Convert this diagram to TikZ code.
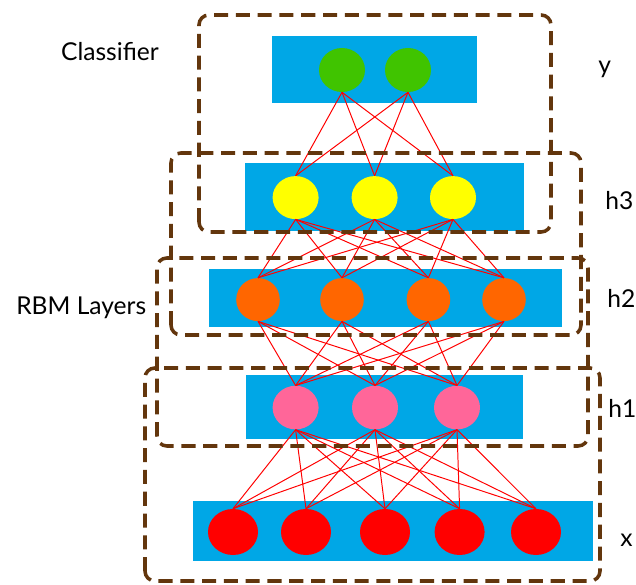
\documentclass[tikz,border=0pt]{standalone}
\usepackage{fontspec}
\setmainfont{Lato}
\usepackage{tikz}
\usetikzlibrary{shapes.geometric}

\definecolor{layerblue}{RGB}{0,167,230}
\definecolor{unitgreen}{RGB}{64,196,0}
\definecolor{unityellow}{RGB}{255,255,0}
\definecolor{unitorange}{RGB}{255,102,0}
\definecolor{unitpink}{RGB}{255,102,153}
\definecolor{unitred}{RGB}{255,0,0}
\definecolor{rbmbrown}{RGB}{99,54,13}

\begin{document}
\begin{tikzpicture}[
	unit/.style={ellipse,inner sep=0pt,draw=none},
	yunit/.style={unit,fill=unitgreen,minimum width=1.15cm,minimum height=1.1cm},
	hthreeunit/.style={unit,fill=unityellow,minimum width=1.15cm,minimum height=1.075cm},
	htwounit/.style={unit,fill=unitorange,minimum width=1.09cm,minimum height=1.075cm},
	honeunit/.style={unit,fill=unitpink,minimum width=1.15cm,minimum height=1.09cm},
	xunit/.style={unit,fill=unitred,minimum width=1.25cm,minimum height=1.15cm},
	link/.style={unitred,line width=0.7pt},
	rbmbox/.style={draw=rbmbrown,line width=2.5pt,dash pattern=on 10pt off 5.5pt,rounded corners=7pt},
	lbl/.style={anchor=base west,inner sep=0pt,font=\fontsize{17.5}{21}\selectfont}]
	\useasboundingbox (0,0) rectangle (15.9,14.6);
	% layer bars
	\fill[layerblue] (6.8,12.025) rectangle (11.925,13.7);
	\fill[layerblue] (6.125,8.825) rectangle (13.11,10.525);
	\fill[layerblue] (5.225,6.425) rectangle (14.05,7.875);
	\fill[layerblue] (6.15,3.625) rectangle (13.075,5.225);
	\fill[layerblue] (4.82,0.585) rectangle (14.825,2.085);
	% units
	\foreach \x [count=\i] in {8.55,10.2}
		\node[yunit] (y\i) at (\x,12.85) {};
	\foreach \x [count=\i] in {7.39,9.365,11.325}
		\node[hthreeunit] (h3-\i) at (\x,9.66) {};
	\foreach \x [count=\i] in {6.45,8.55,10.71,12.6}
		\node[htwounit] (h2-\i) at (\x,7.11) {};
	\foreach \x [count=\i] in {7.39,9.375,11.425}
		\node[honeunit] (h1-\i) at (\x,4.41) {};
	\foreach \x [count=\i] in {5.825,7.65,9.625,11.49,13.4}
		\node[xunit] (x\i) at (\x,1.3) {};
	% connections
	\foreach \i in {1,2}
		\foreach \j in {1,2,3}
			\draw[link] (y\i.south) -- (h3-\j.north);
	\foreach \i in {1,2,3}
		\foreach \j in {1,...,4}
			\draw[link] (h3-\i.south) -- (h2-\j.north);
	\foreach \i in {1,...,4}
		\foreach \j in {1,2,3}
			\draw[link] (h2-\i.south) -- (h1-\j.north);
	\foreach \i in {1,2,3}
		\foreach \j in {1,...,5}
			\draw[link] (h1-\i.south) -- (x\j.north);
	% RBM boxes
	\draw[rbmbox] (4.975,8.8) rectangle (13.775,14.225);
	\draw[rbmbox] (4.275,6.225) rectangle (14.525,10.775);
	\draw[rbmbox] (3.925,3.45) rectangle (14.7,8.15);
	\draw[rbmbox] (3.625,0.075) rectangle (15.0,5.4);
	% labels
	\node[lbl] (lclass) at (1.52,13.075) {Classifier};
	\node[lbl] (lrbm) at (0.4,6.725) {RBM Layers};
	\node[lbl] (ly) at (14.95,12.75) {y};
	\node[lbl] (lh3) at (15.125,9.35) {h3};
	\node[lbl] (lh2) at (15.175,6.9) {h2};
	\node[lbl] (lh1) at (15.2,4.15) {h1};
	\node[lbl] (lx) at (15.5,0.95) {x};
\end{tikzpicture}
\end{document}
